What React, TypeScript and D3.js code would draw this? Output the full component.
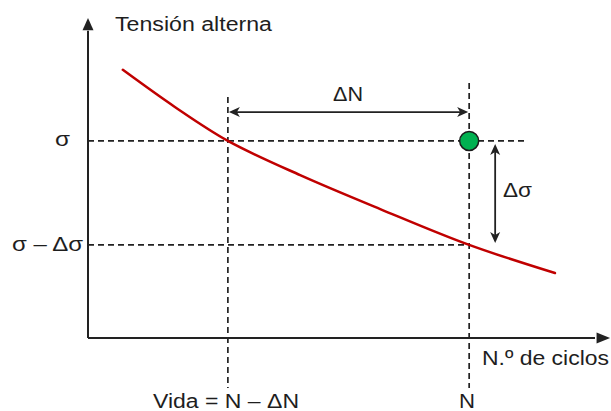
import React from "react";
import * as d3 from "d3";

// ---- data (abstract units) ----
const curveX = [6.7, 16.7, 26.9, 40.8, 56.2, 73.3, 89.8];
const curveY = [83.8, 72.2, 61.6, 50.9, 40.3, 29.1, 20.3];
const sigmaLevels = [61.6, 29.1]; // σ, σ − Δσ
const sigmaLabels = ["σ", "σ – Δσ"];
const cycleLevels = [26.9, 73.3]; // N − ΔN, N
const cycleLabels = ["Vida = N – ΔN", "N"];
const pointX = [73.3];
const pointY = [61.6];

const W = 611;
const H = 411;

const x = d3.scaleLinear().domain([0, 100]).range([88, 608]);
const y = d3.scaleLinear().domain([0, 100]).range([338, 18]);

const DARK = "#222";
const FONT = "'Liberation Sans', Arial, sans-serif";

function arrowHead(tx: number, ty: number, dx: number, dy: number, len = 11, hw = 5, notch = 3) {
  const px = -dy, py = dx;
  const bx = tx - dx * len, by = ty - dy * len;
  const nx = tx - dx * (len - notch), ny = ty - dy * (len - notch);
  return `M${tx},${ty} L${bx + px * hw},${by + py * hw} L${nx},${ny} L${bx - px * hw},${by - py * hw} Z`;
}

export default function App() {
  const line = d3
    .line<number>()
    .x((_, i) => x(curveX[i]))
    .y((d) => y(d))
    .curve(d3.curveCatmullRom.alpha(0.5));

  const x0 = x(0);
  const y0 = y(0);
  const xL = x(cycleLevels[0]);
  const xN = x(cycleLevels[1]);
  const yS = y(sigmaLevels[0]);
  const yD = y(sigmaLevels[1]);
  const dash = "6 4";
  const arrowY = y(70.6);
  const dsX = x(78.3);

  const labelProps = { fontFamily: FONT, fontSize: 20, fill: "#1e1e1e", lengthAdjust: "spacingAndGlyphs" as const };

  return (
    <svg width={W} height={H} style={{ position: "absolute", left: 0, top: 0, background: "#fff" }}>
      {/* dashed guides */}
      <g stroke={DARK} strokeWidth={1.7} strokeDasharray={dash} fill="none">
        <line x1={x0} y1={yS} x2={x(84.4)} y2={yS} />
        <line x1={x0} y1={yD} x2={xN} y2={yD} />
        <line x1={xL} y1={y(75.3)} x2={xL} y2={y(-15.6)} />
        <line x1={xN} y1={y(79.7)} x2={xN} y2={y(-15.6)} />
      </g>

      {/* axes */}
      <g stroke={DARK} strokeWidth={2}>
        <line x1={x0} y1={y0} x2={x0} y2={y(96)} />
        <line x1={x0} y1={y0} x2={x(97.5)} y2={y0} />
      </g>
      <path d={`M${x0},${y(100)} L${x0 - 5.5},${y(96.2)} L${x0 + 5.5},${y(96.2)} Z`} fill={DARK} />
      <path d={`M${x(100.4)},${y0} L${x(97.8)},${y0 - 5.5} L${x(97.8)},${y0 + 5.5} Z`} fill={DARK} />

      {/* curve */}
      <path d={line(curveY) || ""} fill="none" stroke="#c00000" strokeWidth={2.5} strokeLinecap="round" />

      {/* ΔN arrow */}
      <line x1={xL + 3} y1={arrowY} x2={xN - 3} y2={arrowY} stroke={DARK} strokeWidth={1.8} />
      <path d={arrowHead(xL + 1, arrowY, -1, 0)} fill={DARK} />
      <path d={arrowHead(xN - 1, arrowY, 1, 0)} fill={DARK} />

      {/* Δσ arrow */}
      <line x1={dsX} y1={yS + 6} x2={dsX} y2={yD - 4} stroke={DARK} strokeWidth={1.8} />
      <path d={arrowHead(dsX, yS + 3, 0, -1)} fill={DARK} />
      <path d={arrowHead(dsX, yD - 2, 0, 1)} fill={DARK} />

      {/* point */}
      {pointX.map((px, i) => (
        <circle key={i} cx={x(px)} cy={y(pointY[i])} r={9.5} fill="#00b050" stroke="#1a1a1a" strokeWidth={1.5} />
      ))}

      {/* texts */}
      <text x={115} y={31} textLength={157} {...labelProps}>Tensión alterna</text>
      <text x={333} y={101} textLength={30} {...labelProps}>ΔN</text>
      <text x={503} y={197} textLength={29} {...labelProps}>Δσ</text>
      <text x={55} y={146} textLength={15} {...labelProps}>{sigmaLabels[0]}</text>
      <text x={12} y={251} textLength={71} {...labelProps}>{sigmaLabels[1]}</text>
      <text x={482} y={365} textLength={127} {...labelProps}>N.º de ciclos</text>
      <text x={153} y={408} textLength={146} {...labelProps}>{cycleLabels[0]}</text>
      <text x={459} y={408} textLength={16} {...labelProps}>{cycleLabels[1]}</text>
    </svg>
  );
}
